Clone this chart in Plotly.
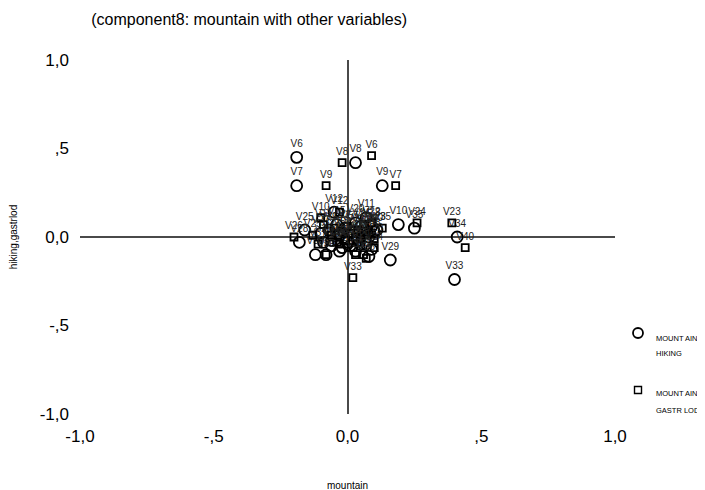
import plotly.graph_objects as go

labels = ["V%d" % i for i in range(1, 41)]

hiking_x = [0.02, -0.01, 0.04, 0.06, -0.03, -0.19, -0.19, 0.03, 0.13, 0.19,
            0.07, -0.05, 0.00, 0.05, -0.04, 0.08, 0.01, 0.09, -0.06, 0.03,
            0.07, -0.02, 0.11, 0.09, -0.16, -0.09, -0.10, -0.18, 0.16, -0.12,
            -0.08, -0.03, 0.40, 0.41, 0.25, 0.08, 0.03, -0.06, -0.07, 0.10]
hiking_y = [0.03, 0.05, -0.02, 0.02, 0.01, 0.45, 0.29, 0.42, 0.29, 0.07,
            0.11, 0.14, -0.03, 0.06, 0.07, 0.00, -0.05, 0.06, -0.02, 0.08,
            -0.04, -0.06, 0.04, -0.07, 0.04, -0.03, 0.02, -0.03, -0.13, -0.10,
            -0.10, -0.08, -0.24, 0.00, 0.05, -0.11, -0.08, -0.05, 0.04, 0.03]

gastr_x = [0.01, 0.04, -0.02, 0.05, 0.00, 0.09, 0.18, -0.02, -0.08, -0.10,
           -0.09, -0.03, 0.02, -0.05, 0.06, 0.03, -0.04, 0.08, 0.02, 0.10,
           -0.01, 0.09, 0.39, 0.26, -0.13, -0.20, -0.06, 0.07, 0.05, -0.08,
           0.03, 0.06, 0.02, 0.10, 0.13, 0.07, -0.11, 0.09, -0.03, 0.44]
gastr_y = [0.02, 0.04, 0.03, -0.01, 0.06, 0.46, 0.29, 0.42, 0.29, 0.11,
           0.07, 0.14, -0.02, 0.05, 0.07, 0.00, -0.03, 0.04, -0.06, -0.01,
           -0.02, 0.08, 0.08, 0.08, 0.01, 0.00, 0.01, 0.03, -0.05, -0.10,
           -0.10, -0.10, -0.23, -0.06, 0.05, -0.12, -0.04, 0.02, -0.04, -0.06]

series_names = [["MOUNT AIN", "HIKING"], ["MOUNT AIN", "GASTR LOD"]]

tick_vals = [-1.0, -0.5, 0.0, 0.5, 1.0]
tick_text = ["-1,0", "-,5", "0,0", ",5", "1,0"]

FONT = "Liberation Sans, Arial, sans-serif"

fig = go.Figure()
fig.add_trace(go.Scatter(
    x=hiking_x, y=hiking_y, text=labels, mode="markers+text",
    name=" ".join(series_names[0]),
    textposition="top center",
    textfont=dict(family=FONT, size=10, color="#222"),
    marker=dict(symbol="circle-open", size=11, color="black",
                line=dict(width=1.8, color="black")),
    cliponaxis=False,
))
fig.add_trace(go.Scatter(
    x=gastr_x, y=gastr_y, text=labels, mode="markers+text",
    name=" ".join(series_names[1]),
    textposition="top center",
    textfont=dict(family=FONT, size=10, color="#222"),
    marker=dict(symbol="square-open", size=7, color="black",
                line=dict(width=1.8, color="black")),
    cliponaxis=False,
))

# legend drawn by hand (symbols + text) to the right of the plot
shapes = [
    dict(type="circle", xref="paper", yref="paper",
         xsizemode="pixel", ysizemode="pixel",
         xanchor=1.0430, yanchor=0.2288, x0=-5, x1=5, y0=-5, y1=5,
         line=dict(color="black", width=1.8)),
    dict(type="rect", xref="paper", yref="paper",
         xsizemode="pixel", ysizemode="pixel",
         xanchor=1.0430, yanchor=0.0678, x0=-3.5, x1=3.5, y0=-3.5, y1=3.5,
         line=dict(color="black", width=1.4)),
]
leg_pos = [(0.2119, 0.1695), (0.0565, 0.0085)]
annotations = []
for (y1, y2), (l1, l2) in zip(leg_pos, series_names):
    for yy, tt in ((y1, l1), (y2, l2)):
        annotations.append(dict(
            text=tt, x=1.0729, y=yy, xref="paper", yref="paper",
            xanchor="left", yanchor="middle", showarrow=False,
            font=dict(family=FONT, size=7.5, color="black")))

fig.update_layout(
    width=705, height=490,
    margin=dict(l=72, r=98, t=52, b=84, autoexpand=False),
    paper_bgcolor="white", plot_bgcolor="white",
    font=dict(family=FONT, color="black"),
    title=dict(text="(component8: mountain with other variables)",
               x=0.342, xanchor="center", xref="container",
               y=0.977, yanchor="middle", yref="container",
               font=dict(family=FONT, size=16, color="black")),
    showlegend=False,
    shapes=shapes,
    annotations=annotations,
    xaxis=dict(range=[-1, 1], tickvals=tick_vals, ticktext=tick_text,
               showgrid=False, zeroline=True, zerolinecolor="#4a4a4a",
               zerolinewidth=1.6, showline=False, ticks="",
               ticklabelstandoff=10, automargin=False,
               tickfont=dict(family=FONT, size=17, color="black"),
               title=dict(text="mountain", standoff=36,
                          font=dict(family=FONT, size=10, color="black"))),
    yaxis=dict(range=[-1, 1], tickvals=tick_vals, ticktext=tick_text,
               showgrid=False, zeroline=True, zerolinecolor="#4a4a4a",
               zerolinewidth=1.6, showline=False, ticks="",
               ticklabelstandoff=10, automargin=False,
               tickfont=dict(family=FONT, size=17, color="black"),
               title=dict(text="hiking,gastrlod", standoff=30,
                          font=dict(family=FONT, size=10, color="black"))),
)

fig.write_html("out.html")
